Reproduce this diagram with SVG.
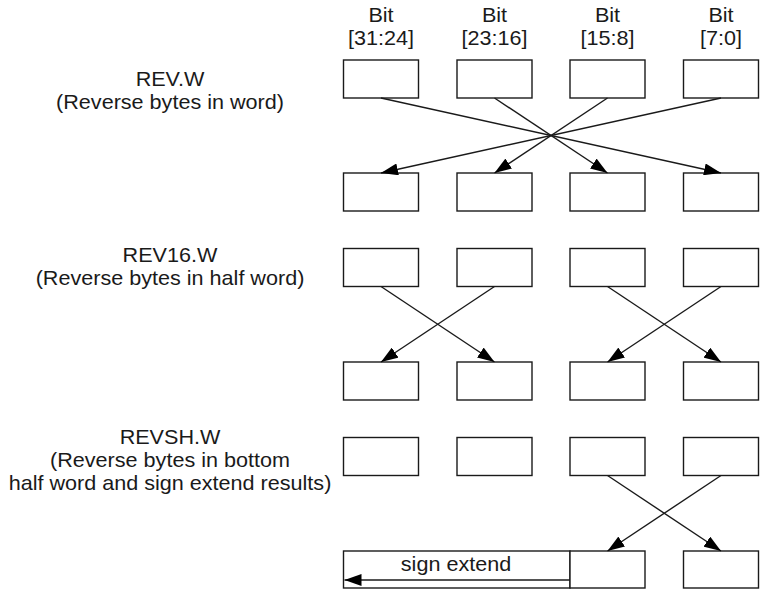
<svg xmlns="http://www.w3.org/2000/svg" width="765" height="590" viewBox="0 0 765 590">
  <style>
    .box { fill: #ffffff; stroke: #1a1a1a; stroke-width: 1.4; }
    .link { fill: none; stroke: #1a1a1a; stroke-width: 1.4; marker-end: url(#head); }
    .lbl { font-family: "Liberation Sans", Arial, sans-serif; font-size: 20px; fill: #1a1a1a; text-anchor: middle; }
  </style>
  <defs>
    <marker id="head" markerUnits="userSpaceOnUse" markerWidth="18" markerHeight="12" refX="17" refY="6" orient="auto">
      <path d="M0,0 L17,6 L0,12 z" fill="#000"/>
    </marker>
  </defs>
  <rect width="765" height="590" fill="#ffffff"/>

  <!-- column headings -->
  <g id="headings">
    <text class="lbl" transform="translate(381,22) scale(1.08,1)">Bit</text>
    <text class="lbl" transform="translate(381,45) scale(1.08,1)">[31:24]</text>
    <text class="lbl" transform="translate(494.5,22) scale(1.08,1)">Bit</text>
    <text class="lbl" transform="translate(494.5,45) scale(1.08,1)">[23:16]</text>
    <text class="lbl" transform="translate(607.5,22) scale(1.08,1)">Bit</text>
    <text class="lbl" transform="translate(607.5,45) scale(1.08,1)">[15:8]</text>
    <text class="lbl" transform="translate(721,22) scale(1.08,1)">Bit</text>
    <text class="lbl" transform="translate(721,45) scale(1.08,1)">[7:0]</text>
  </g>

  <!-- instruction descriptions -->
  <g id="rev-label">
    <text class="lbl" transform="translate(170,86) scale(1.08,1)">REV.W</text>
    <text class="lbl" transform="translate(170,109) scale(1.08,1)">(Reverse bytes in word)</text>
  </g>
  <g id="rev16-label">
    <text class="lbl" transform="translate(170,262) scale(1.08,1)">REV16.W</text>
    <text class="lbl" transform="translate(170,285) scale(1.08,1)">(Reverse bytes in half word)</text>
  </g>
  <g id="revsh-label">
    <text class="lbl" transform="translate(170,444) scale(1.08,1)">REVSH.W</text>
    <text class="lbl" transform="translate(170,467) scale(1.08,1)">(Reverse bytes in bottom</text>
    <text class="lbl" transform="translate(170,490) scale(1.08,1)">half word and sign extend results)</text>
  </g>

  <!-- REV.W source and result bytes -->
  <g id="rev-src">
    <rect class="box" x="343.5" y="60" width="75" height="38"/>
    <rect class="box" x="457" y="60" width="75" height="38"/>
    <rect class="box" x="570" y="60" width="75" height="38"/>
    <rect class="box" x="683.5" y="60" width="75" height="38"/>
  </g>
  <g id="rev-dst">
    <rect class="box" x="343.5" y="173" width="75" height="38"/>
    <rect class="box" x="457" y="173" width="75" height="38"/>
    <rect class="box" x="570" y="173" width="75" height="38"/>
    <rect class="box" x="683.5" y="173" width="75" height="38"/>
  </g>

  <!-- REV16.W source and result bytes -->
  <g id="rev16-src">
    <rect class="box" x="343.5" y="248.5" width="75" height="38"/>
    <rect class="box" x="457" y="248.5" width="75" height="38"/>
    <rect class="box" x="570" y="248.5" width="75" height="38"/>
    <rect class="box" x="683.5" y="248.5" width="75" height="38"/>
  </g>
  <g id="rev16-dst">
    <rect class="box" x="343.5" y="362" width="75" height="38"/>
    <rect class="box" x="457" y="362" width="75" height="38"/>
    <rect class="box" x="570" y="362" width="75" height="38"/>
    <rect class="box" x="683.5" y="362" width="75" height="38"/>
  </g>

  <!-- REVSH.W source and result bytes -->
  <g id="revsh-src">
    <rect class="box" x="343.5" y="437.5" width="75" height="38"/>
    <rect class="box" x="457" y="437.5" width="75" height="38"/>
    <rect class="box" x="570" y="437.5" width="75" height="38"/>
    <rect class="box" x="683.5" y="437.5" width="75" height="38"/>
  </g>
  <g id="revsh-dst">
    <rect class="box" x="343.5" y="551" width="226.5" height="37"/>
    <rect class="box" x="570" y="551" width="75" height="37"/>
    <rect class="box" x="683.5" y="551" width="75" height="37"/>
    <text class="lbl" transform="translate(456,571) scale(1.08,1)">sign extend</text>
  </g>

  <!-- byte moves -->
  <g id="connectors">
    <line class="link" x1="381" y1="98" x2="721" y2="173"/>
    <line class="link" x1="494.5" y1="98" x2="607.5" y2="173"/>
    <line class="link" x1="607.5" y1="98" x2="494.5" y2="173"/>
    <line class="link" x1="721" y1="98" x2="381" y2="173"/>

    <line class="link" x1="381" y1="286.5" x2="494.5" y2="362"/>
    <line class="link" x1="494.5" y1="286.5" x2="381" y2="362"/>
    <line class="link" x1="607.5" y1="286.5" x2="721" y2="362"/>
    <line class="link" x1="721" y1="286.5" x2="607.5" y2="362"/>

    <line class="link" x1="607.5" y1="475.5" x2="721" y2="551"/>
    <line class="link" x1="721" y1="475.5" x2="607.5" y2="551"/>

    <line class="link" x1="570" y1="580" x2="344.5" y2="580"/>
  </g>
</svg>
